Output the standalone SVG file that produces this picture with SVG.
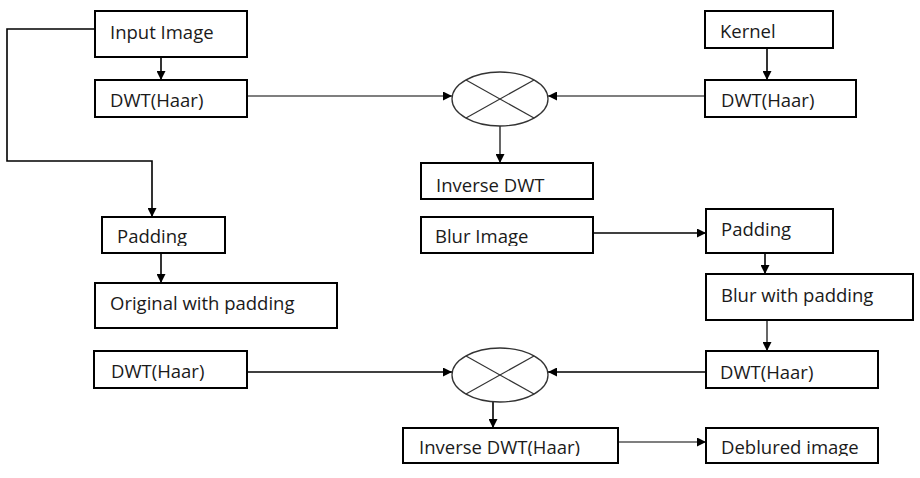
<svg xmlns="http://www.w3.org/2000/svg" width="920" height="478" viewBox="0 0 920 478">
  <style>
    .box { fill: #fff; stroke: #000; stroke-width: 2; }
    .lbl { font-family: "Open Sans", "Liberation Sans", sans-serif; font-size: 18.5px; fill: #1a1a1a; }
    .wire { fill: none; stroke: #000; stroke-width: 1.6; }
    .thin { fill: none; stroke: #000; stroke-width: 1.2; }
    .mix { fill: #fff; stroke: #333; stroke-width: 1.3; }
    .mixx { stroke: #333; stroke-width: 1.2; }
  </style>
  <defs>
    <marker id="arr" viewBox="0 0 10 10" refX="10" refY="5" markerWidth="9" markerHeight="9" markerUnits="userSpaceOnUse" orient="auto">
      <path d="M0,0 L10,5 L0,10 Z" fill="#000"/>
    </marker>
    <clipPath id="clipPadL"><rect x="102" y="217" width="123" height="29"/></clipPath>
    <clipPath id="clipBlur"><rect x="421" y="217" width="172" height="29"/></clipPath>
    <clipPath id="clipInv2"><rect x="403" y="428" width="215" height="28"/></clipPath>
    <clipPath id="clipDeb"><rect x="706" y="428" width="172" height="28"/></clipPath>
  </defs>

  <!-- connectors -->
  <g id="connectors">
    <path class="wire" d="M161,57 V80" marker-end="url(#arr)"/>
    <path class="wire" d="M95,29 H7 V161 H152 V217" marker-end="url(#arr)"/>
    <path class="thin" d="M247,96 H452" marker-end="url(#arr)"/>
    <path class="wire" d="M767,48 V80" marker-end="url(#arr)"/>
    <path class="thin" d="M705,96 H548" marker-end="url(#arr)"/>
    <path class="thin" d="M500,126 V163" marker-end="url(#arr)"/>
    <path class="wire" d="M161,253 V283" marker-end="url(#arr)"/>
    <path class="wire" d="M593,233 H706" marker-end="url(#arr)"/>
    <path class="wire" d="M765,253 V274" marker-end="url(#arr)"/>
    <path class="thin" d="M767,320 V351" marker-end="url(#arr)"/>
    <path class="wire" d="M247,372 H452" marker-end="url(#arr)"/>
    <path class="wire" d="M706,372 H548" marker-end="url(#arr)"/>
    <path class="wire" d="M493,402 V428" marker-end="url(#arr)"/>
    <path class="thin" d="M618,442 H706" marker-end="url(#arr)"/>
  </g>

  <g id="input-image">
    <rect class="box" x="95" y="11" width="152" height="46"/>
    <text class="lbl" x="110" y="39">Input Image</text>
  </g>
  <g id="dwt-image">
    <rect class="box" x="95" y="80" width="152" height="37"/>
    <text class="lbl" x="110" y="107">DWT(Haar)</text>
  </g>
  <g id="kernel">
    <rect class="box" x="705" y="11" width="128" height="37"/>
    <text class="lbl" x="720" y="38">Kernel</text>
  </g>
  <g id="dwt-kernel">
    <rect class="box" x="705" y="80" width="151" height="37"/>
    <text class="lbl" x="721" y="107">DWT(Haar)</text>
  </g>
  <g id="product-top">
    <ellipse class="mix" cx="500" cy="99" rx="48" ry="27"/>
    <line class="mixx" x1="466" y1="80" x2="534" y2="118"/>
    <line class="mixx" x1="534" y1="80" x2="466" y2="118"/>
  </g>
  <g id="inverse-dwt">
    <rect class="box" x="421" y="163" width="172" height="36"/>
    <text class="lbl" x="436" y="192">Inverse DWT</text>
  </g>
  <g id="padding-left">
    <rect class="box" x="102" y="217" width="123" height="36"/>
    <text class="lbl" x="117" y="243" clip-path="url(#clipPadL)">Padding</text>
  </g>
  <g id="original-padded">
    <rect class="box" x="95" y="283" width="242" height="45"/>
    <text class="lbl" x="110" y="310">Original with padding</text>
  </g>
  <g id="blur-image">
    <rect class="box" x="421" y="217" width="172" height="36"/>
    <text class="lbl" x="435" y="243" clip-path="url(#clipBlur)">Blur Image</text>
  </g>
  <g id="padding-right">
    <rect class="box" x="706" y="209" width="127" height="44"/>
    <text class="lbl" x="721" y="236">Padding</text>
  </g>
  <g id="blur-padded">
    <rect class="box" x="706" y="274" width="207" height="46"/>
    <text class="lbl" x="721" y="302">Blur with padding</text>
  </g>
  <g id="dwt-original">
    <rect class="box" x="94" y="351" width="153" height="37"/>
    <text class="lbl" x="111" y="378">DWT(Haar)</text>
  </g>
  <g id="dwt-blur">
    <rect class="box" x="706" y="351" width="172" height="37"/>
    <text class="lbl" x="720" y="379">DWT(Haar)</text>
  </g>
  <g id="product-bottom">
    <ellipse class="mix" cx="500" cy="375" rx="48" ry="27"/>
    <line class="mixx" x1="466" y1="356" x2="534" y2="394"/>
    <line class="mixx" x1="534" y1="356" x2="466" y2="394"/>
  </g>
  <g id="inverse-dwt-haar">
    <rect class="box" x="403" y="428" width="215" height="35"/>
    <text class="lbl" x="419" y="454" clip-path="url(#clipInv2)">Inverse DWT(Haar)</text>
  </g>
  <g id="deblurred">
    <rect class="box" x="706" y="428" width="172" height="35"/>
    <text class="lbl" x="721" y="454" clip-path="url(#clipDeb)">Deblured image</text>
  </g>
</svg>
